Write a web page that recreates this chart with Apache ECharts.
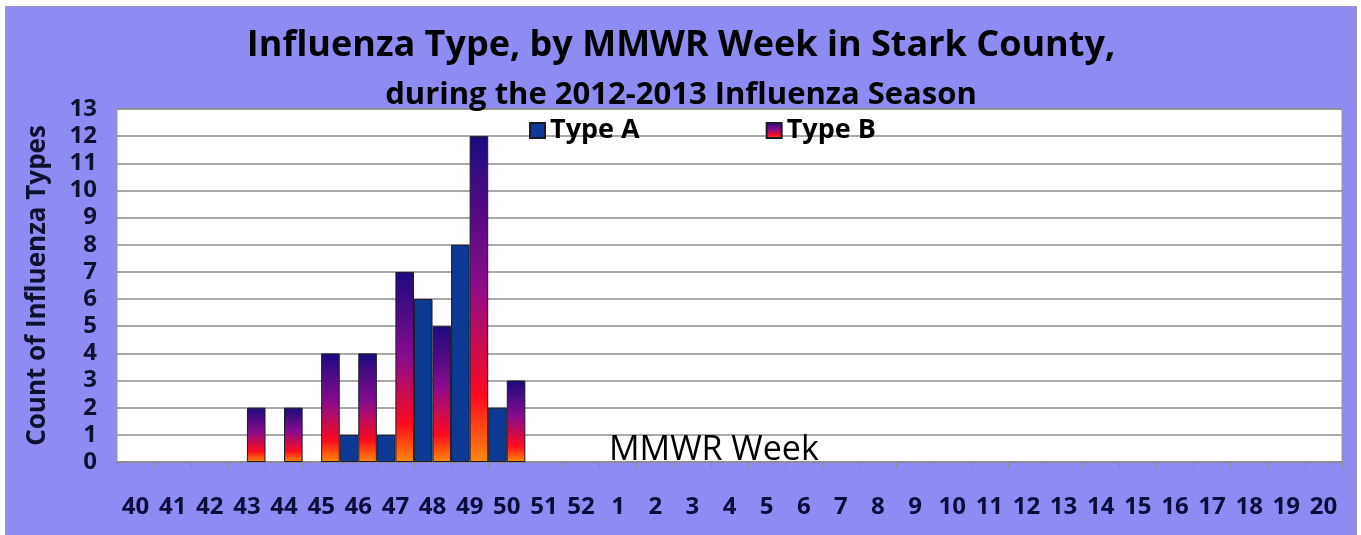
<!DOCTYPE html>
<html>
<head>
<meta charset="utf-8">
<script src="https://cdn.jsdelivr.net/npm/echarts@6/dist/echarts.min.js"></script>
<style>
  html, body { margin: 0; padding: 0; background: #fff; }
  #chart {
    position: absolute;
    left: 5px;
    top: 6px;
    width: 1350px;
    height: 529px;
    background: #8e8cf3;
    border: 1px solid #9a9ab0;
  }
</style>
</head>
<body>
<div id="chart"></div>
<script>
const weeks = ["40", "41", "42", "43", "44", "45", "46", "47", "48", "49", "50", "51", "52",
  "1", "2", "3", "4", "5", "6", "7", "8", "9", "10", "11", "12", "13", "14", "15", "16", "17", "18", "19", "20"];
const typeA = [0, 0, 0, 0, 0, 0, 1, 1, 6, 8, 2, 0, 0,
  0, 0, 0, 0, 0, 0, 0, 0, 0, 0, 0, 0, 0, 0, 0, 0, 0, 0, 0, 0];
const typeB = [0, 0, 0, 2, 2, 4, 4, 7, 5, 12, 3, 0, 0,
  0, 0, 0, 0, 0, 0, 0, 0, 0, 0, 0, 0, 0, 0, 0, 0, 0, 0, 0, 0];
const yMax = 13;

const font = "Open Sans";
const gradB = new echarts.graphic.LinearGradient(0, 0, 0, 1, [
  { offset: 0, color: "#1a0a80" },
  { offset: 0.45, color: "#8a0c8c" },
  { offset: 0.8, color: "#ff0a1e" },
  { offset: 1, color: "#ff8a0a" },
]);

// zero bars would leave a dark stroke on the axis, so drop their border
function toBars(arr) {
  return arr.map((v) => (v === 0 ? { value: 0, itemStyle: { borderWidth: 0 } } : v));
}

let myChart = echarts.init(document.getElementById("chart"));
let option = {
  animation: false,
  textStyle: { fontFamily: font },
  title: [
    {
      text: "Influenza Type, by MMWR Week in Stark County,",
      left: "center",
      top: 16,
      textStyle: { fontSize: 36, fontWeight: "bold", color: "#000", fontFamily: font },
    },
    {
      text: "during the 2012-2013 Influenza Season",
      left: "center",
      top: 68,
      textStyle: { fontSize: 31, fontWeight: "bold", color: "#000", fontFamily: font },
    },
    {
      text: "MMWR Week",
      left: 598,
      top: 421,
      textStyle: { fontSize: 34, fontWeight: "normal", color: "#000", fontFamily: font },
    },
  ],
  legend: {
    data: ["Type A", "Type B"],
    left: 518,
    top: 105,
    icon: "rect",
    itemWidth: 15,
    itemHeight: 15,
    itemGap: 126,
    textStyle: { fontSize: 27, fontWeight: "bold", color: "#000", fontFamily: font },
  },
  grid: {
    left: 111,
    right: 14,
    top: 102,
    bottom: 74,
    show: true,
    backgroundColor: "#fff",
    borderColor: "#9a9a9a",
    borderWidth: 1,
  },
  xAxis: {
    type: "category",
    data: weeks,
    axisLine: { lineStyle: { color: "#8c8c8c", width: 1.5 } },
    axisTick: { show: true, length: 6, lineStyle: { color: "#8c8c8c" } },
    axisLabel: {
      margin: 33,
      fontSize: 24,
      fontWeight: "bold",
      fontFamily: font,
      color: "#0c0c3c",
      interval: 0,
    },
  },
  yAxis: {
    type: "value",
    min: 0,
    max: yMax,
    interval: 1,
    name: "Count of Influenza Types",
    nameLocation: "middle",
    nameGap: 66,
    nameTextStyle: { fontSize: 26, fontWeight: "bold", color: "#101030", fontFamily: font },
    axisLine: { show: false },
    axisTick: { show: false },
    axisLabel: { fontSize: 24, fontWeight: "bold", fontFamily: font, color: "#101030", margin: 20 },
    splitLine: { lineStyle: { color: "#8c8c8c", width: 1.5 } },
  },
  series: [
    {
      name: "Type A",
      type: "bar",
      data: toBars(typeA),
      barGap: "0%",
      barCategoryGap: "0%",
      itemStyle: { color: "#0c3a94", borderColor: "#1a1a2a", borderWidth: 1 },
    },
    {
      name: "Type B",
      type: "bar",
      data: toBars(typeB),
      barGap: "0%",
      barCategoryGap: "0%",
      itemStyle: { color: gradB, borderColor: "#1a1a2a", borderWidth: 1 },
    },
  ],
};
myChart.setOption(option);
</script>
</body>
</html>
